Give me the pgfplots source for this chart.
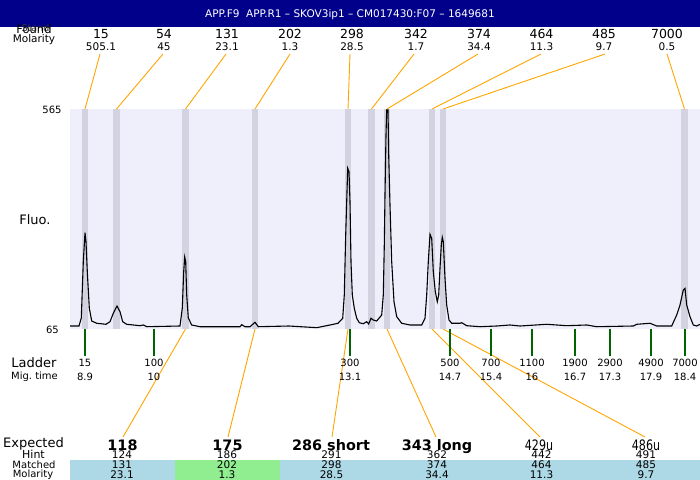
\documentclass[border=0pt]{standalone}
\usepackage{pgfplots}
\pgfplotsset{compat=1.18}
\usepackage{graphicx}
\usepackage{fontspec}
\setmainfont{DejaVu Sans}
\definecolor{hdr}{RGB}{0,0,139}
\definecolor{plotbg}{RGB}{239,239,252}
\definecolor{bandc}{RGB}{210,210,224}
\definecolor{conn}{RGB}{255,165,0}
\definecolor{ladg}{RGB}{0,100,0}
\definecolor{cellblue}{RGB}{173,216,230}
\definecolor{cellgreen}{RGB}{144,238,144}
\newcommand\fs[1]{\fontsize{#1bp}{#1bp}\selectfont}
\begin{document}
\begin{tikzpicture}
% ---------- canvas axis in pixel coordinates ----------
\begin{axis}[name=c, at={(0,0)}, anchor=south west, scale only axis,
  width=700bp, height=480bp, xmin=0, xmax=700, ymin=0, ymax=480,
  y dir=reverse, hide axis, clip=false]
\fill[hdr] (axis cs:0,0) rectangle (axis cs:700,26.5);
\fill[cellblue] (axis cs:70,460) rectangle (axis cs:700,480);
\fill[cellgreen] (axis cs:175,460) rectangle (axis cs:280,480);
% connectors top (label -> peak)
\addplot[conn, line width=0.9bp] coordinates {(100,54) (85,109)};
\addplot[conn, line width=0.9bp] coordinates {(163,54) (116.5,109)};
\addplot[conn, line width=0.9bp] coordinates {(226,54) (185.5,109)};
\addplot[conn, line width=0.9bp] coordinates {(290,54) (255,109)};
\addplot[conn, line width=0.9bp] coordinates {(350,54) (348,109)};
\addplot[conn, line width=0.9bp] coordinates {(414,54) (371.5,109)};
\addplot[conn, line width=0.9bp] coordinates {(478,54) (387,109)};
\addplot[conn, line width=0.9bp] coordinates {(541,54) (432,109)};
\addplot[conn, line width=0.9bp] coordinates {(605,54) (443,109)};
\addplot[conn, line width=0.9bp] coordinates {(667,54) (684.5,109)};
% connectors bottom (peak -> expected)
\addplot[conn, line width=0.9bp] coordinates {(185.5,329) (123,437)};
\addplot[conn, line width=0.9bp] coordinates {(255,329) (228,437)};
\addplot[conn, line width=0.9bp] coordinates {(348,329) (332,437)};
\addplot[conn, line width=0.9bp] coordinates {(387,329) (436,437)};
\addplot[conn, line width=0.9bp] coordinates {(432,329) (540,437)};
\addplot[conn, line width=0.9bp] coordinates {(443,329) (645,437)};
% ladder ticks
\addplot[ladg, line width=1.3bp] coordinates {(85,329) (85,356)};
\addplot[ladg, line width=1.3bp] coordinates {(154,329) (154,356)};
\addplot[ladg, line width=1.3bp] coordinates {(350,329) (350,356)};
\addplot[ladg, line width=1.3bp] coordinates {(450,329) (450,356)};
\addplot[ladg, line width=1.3bp] coordinates {(491,329) (491,356)};
\addplot[ladg, line width=1.3bp] coordinates {(532,329) (532,356)};
\addplot[ladg, line width=1.3bp] coordinates {(575,329) (575,356)};
\addplot[ladg, line width=1.3bp] coordinates {(610,329) (610,356)};
\addplot[ladg, line width=1.3bp] coordinates {(651,329) (651,356)};
\addplot[ladg, line width=1.3bp] coordinates {(685,329) (685,356)};
\end{axis}
% ---------- electropherogram ----------
\begin{axis}[at={(70bp,151bp)}, anchor=south west, scale only axis,
  width=630bp, height=220bp, xmin=70, xmax=700, ymin=65, ymax=565, hide axis]
\fill[plotbg] (rel axis cs:0,0) rectangle (rel axis cs:1,1);
\addplot[ycomb, draw=bandc, line width=6.5bp] coordinates {
 (85,565) (116.5,565) (185.5,565) (255,565) (348,565) (371.5,565)
 (387,565) (432,565) (443,565) (684.5,565)};
\addplot[black, line width=1.1bp] table {
x y
70 71.8
79 71.8
81.3 90.0
83.3 217.9
85 283.9
86 263.4
87.3 195.2
89.3 112.7
91.7 83.2
96.7 78.0
106 75.7
110 81.6
113.3 100.7
117 117.3
120 104.3
122.7 81.6
126.7 75.7
140 72.5
143.3 74.1
146.7 70.2
180 71.8
182.3 112.7
183.7 195.2
184.7 228.6
185.7 217.9
186.7 142.3
188.3 90.0
191.7 74.1
200 70.2
240 70.2
241.7 74.8
245 70.2
250 70.2
255 80.2
258.3 70.2
289 71.8
316.7 68.0
330 74.1
338 78.0
342.7 89.3
344.3 142.3
345.7 278.6
346.7 354.3
347.7 430.2
349 422.5
350 354.3
351 217.9
352.3 142.3
354.3 112.0
356.7 89.3
359.3 79.3
363.3 77.0
366.7 81.6
368.7 76.4
371 89.3
373.3 85.5
376.7 83.2
381.7 96.8
383.3 142.3
384.3 255.9
385 369.5
386 505.9
386.7 562.7
388 562.7
388.7 460.5
390 346.8
391.7 217.9
394 127.0
396.7 93.0
401.7 78.0
410 74.1
421.7 74.1
425 89.3
426.7 142.3
428.3 217.9
430 280.2
431.7 271.1
433.3 195.2
435.3 149.8
437.3 127.0
438.7 142.3
440 203.0
441.3 255.9
442.3 273.4
443.3 263.4
445 180.2
446.7 119.5
449 85.5
451.7 78.0
460 78.0
461.7 79.3
466.7 72.5
480 70.2
496.7 71.8
510 74.1
520 71.8
546.7 75.7
566.7 72.5
586.7 74.1
596.7 70.2
633.3 71.8
636.7 75.7
650 78.0
656.7 71.8
671.7 71.8
676.7 96.8
680 119.5
683.3 153.6
685 157.5
686.7 119.5
690 93.0
693.3 74.1
696.7 71.8
700 75.7
};
\end{axis}
% ---------- texts (pixel coordinates, y downwards) ----------
\begin{scope}[x=1bp, y=-1bp, shift={(0bp,480bp)}, every node/.style={inner sep=0pt}]
\node[text=white, font=\fs{10.5}, anchor=base] at (350,17.3)
  {APP.F9\ \ APP.R1 -- SKOV3ip1 -- CM017430:F07 -- 1649681};
\node[font=\fs{9.5}, anchor=base, text=black!80] at (35.5,32) {Stand};
\node[font=\fs{11.5}, anchor=base] at (34,33.5) {Found};
\node[font=\fs{10.5}, anchor=base] at (34,42.5) {Molarity};
\foreach \x/\s/\m in {101/15/505.1, 164/54/45, 227/131/23.1, 290/202/1.3,
  352/298/28.5, 416/342/1.7, 479/374/34.4, 541.5/464/11.3, 604/485/9.7,
  667/7000/0.5}{
  \node[font=\fs{12.5}, anchor=base] at (\x,39) {\s};
  \node[font=\fs{10.5}, anchor=base] at (\x,51) {\m};
}
\node[font=\fs{10}, anchor=base] at (52,113.5) {565};
\node[font=\fs{10}, anchor=base] at (52.5,334) {65};
\node[font=\fs{13}, anchor=base] at (35,225) {Fluo.};
\node[font=\fs{13}, anchor=base] at (34,367.5) {Ladder};
\node[font=\fs{10}, anchor=base] at (34.5,380) {Mig.\ time};
\foreach \x/\l/\t in {85/15/8.9, 154/100/10, 350/300/13.1, 450/500/14.7,
  491/700/15.4, 532/1100/16, 575/1900/16.7, 610/2900/17.3, 651/4900/17.9,
  685/7000/18.4}{
  \node[font=\fs{10}, anchor=base] at (\x,367) {\l};
  \node[font=\fs{10}, anchor=base] at (\x,380.5) {\t};
}
\node[font=\fs{13}, anchor=base] at (33.5,447.5) {Expected};
\node[font=\fs{11}, anchor=base] at (33.5,458.5) {Hint};
\node[font=\fs{10}, anchor=base] at (34,468.5) {Matched};
\node[font=\fs{10}, anchor=base] at (33,478) {Molarity};
\node[font=\bfseries\fs{14.4}, anchor=base] at (122.5,450.3) {118};
\node[font=\bfseries\fs{14.4}, anchor=base] at (227.5,450.3) {175};
\node[font=\bfseries\fs{14.4}, anchor=base] at (331,450.3) {286 short};
\node[font=\bfseries\fs{14.4}, anchor=base] at (437,450.3) {343 long};
\node[font=\fs{14.4}, anchor=base] at (539,450.3) {\scalebox{0.77}[1]{429u}};
\node[font=\fs{14.4}, anchor=base] at (646,450.3) {\scalebox{0.77}[1]{486u}};
\foreach \x/\h/\mt/\mo in {122/124/131/23.1, 227/186/202/1.3, 331.5/291/298/28.5,
  437/362/374/34.4, 541.5/442/464/11.3, 646/491/485/9.7}{
  \node[font=\fs{10.5}, anchor=base] at (\x,459) {\h};
  \node[font=\fs{10.5}, anchor=base] at (\x,469) {\mt};
  \node[font=\fs{10.5}, anchor=base] at (\x,478.7) {\mo};
}
\end{scope}
\pgfresetboundingbox
\path (0,0) rectangle (700bp,480bp);
\end{tikzpicture}
\end{document}
